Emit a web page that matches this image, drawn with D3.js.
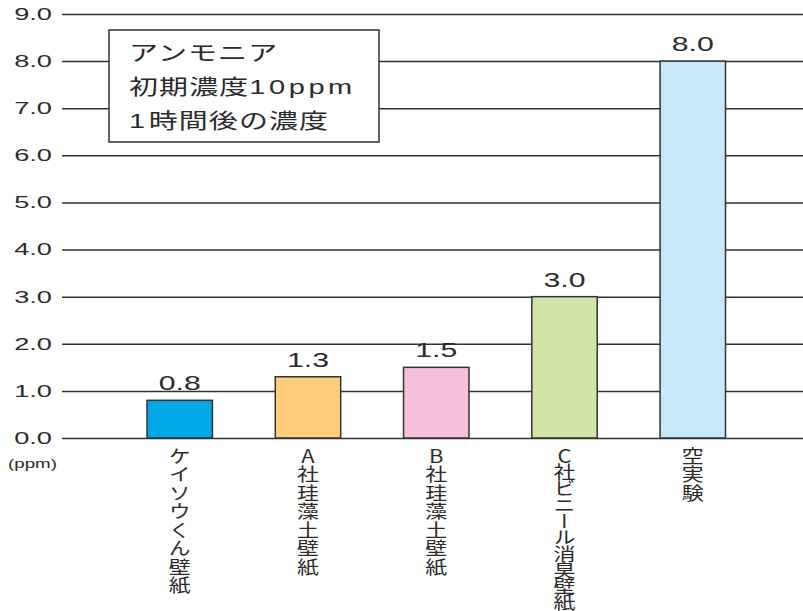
<!DOCTYPE html>
<html>
<head>
<meta charset="utf-8">
<script src="https://cdn.jsdelivr.net/npm/d3@7"></script>
<style>
  body { margin: 0; background: #fff; }
  svg text { font-family: "Liberation Sans", "Noto Sans CJK JP", sans-serif; fill: #2b2b2b; }
  .vlab { font-family: "Noto Sans CJK JP", sans-serif; writing-mode: vertical-rl; text-orientation: upright; }
</style>
</head>
<body>
<svg id="chart"></svg>
<script>
// chart data
const categories = ["ケイソウくん壁紙", "A社珪藻土壁紙", "B社珪藻土壁紙", "C社ビニール消臭壁紙", "空実験"];
const values = [0.8, 1.3, 1.5, 3.0, 8.0];
const barColors = ["#00a9e6", "#ffcd7c", "#f7c0da", "#d1e5a9", "#c7e8f7"];
const yTicks = [0, 1, 2, 3, 4, 5, 6, 7, 8, 9];
const noteLines = ["アンモニア", "初期濃度10ppm", "1時間後の濃度"];

const width = 803, height = 611;
const svg = d3.select("#chart").attr("width", width).attr("height", height);

let y = d3.scaleLinear().domain([0, 9]).range([438, 14]);
let x = d3.scaleBand().domain(categories).range([147, 725.5]).paddingInner(0.49).paddingOuter(0);

// grid lines (labels drawn separately, the original type is stretched wide)
let yAxis = d3.axisLeft(y).tickValues(yTicks).tickFormat("").tickSize(-741);
let ax = svg.append("g").attr("transform", "translate(62,0)").call(yAxis);
ax.select(".domain").remove();
ax.selectAll(".tick line").attr("stroke", "#333").attr("stroke-width", 1.5);

svg.append("g").selectAll("g").data(yTicks).enter().append("g")
  .attr("transform", d => `translate(52,${y(d)}) scale(1.65,1)`)
  .append("text")
  .attr("text-anchor", "end")
  .attr("dy", "0.36em")
  .attr("font-size", 16.5)
  .text(d => d3.format(".1f")(d));

svg.append("g").attr("transform", "translate(8,468) scale(1.5,1)")
  .append("text").attr("font-size", 12.5).text("(ppm)");

// note box
let box = svg.append("g");
box.append("rect").attr("x", 109).attr("y", 30).attr("width", 270).attr("height", 112)
  .attr("fill", "#fff").attr("stroke", "#333").attr("stroke-width", 1.5);
let noteText = box.selectAll("g").data(noteLines).enter().append("g")
  .attr("transform", (d, i) => `translate(129,${60 + i * 34}) scale(1.38,1)`)
  .append("text")
  .attr("font-size", 21)
  .attr("font-family", "'Noto Sans CJK JP', sans-serif");
// latin runs are set a little looser than the kana/kanji
noteText.selectAll("tspan").data(d => d.match(/[\x20-\x7e]+|[^\x20-\x7e]+/g)).enter().append("tspan")
  .style("letter-spacing", s => /[\x20-\x7e]/.test(s) ? "2.6px" : "0.8px")
  .text(s => s);

// bars
svg.append("g").selectAll("rect").data(values).enter().append("rect")
  .attr("x", (d, i) => x(categories[i]))
  .attr("y", d => y(d))
  .attr("width", x.bandwidth())
  .attr("height", d => y(0) - y(d))
  .attr("fill", (d, i) => barColors[i])
  .attr("stroke", "#333").attr("stroke-width", 1.5);

// value labels
svg.append("g").selectAll("g").data(values).enter().append("g")
  .attr("transform", (d, i) => `translate(${x(categories[i]) + x.bandwidth() / 2},${y(d) - 10}) scale(1.55,1)`)
  .append("text")
  .attr("text-anchor", "middle")
  .attr("font-size", 19.5)
  .text(d => d.toFixed(1));

// vertical category labels (stacked characters, slightly wide glyphs)
let vl = svg.append("g").selectAll("g").data(categories).enter().append("g")
  .attr("transform", d => `translate(${x(d) + x.bandwidth() / 2},447) scale(1.22,1)`);
vl.append("text")
  .attr("class", "vlab")
  .attr("x", 0).attr("y", 0)
  .attr("font-size", 18)
  .style("letter-spacing", d => (Math.min(18.5, 163 / d.length) - 18) + "px")
  .text(d => d);
</script>
</body>
</html>
